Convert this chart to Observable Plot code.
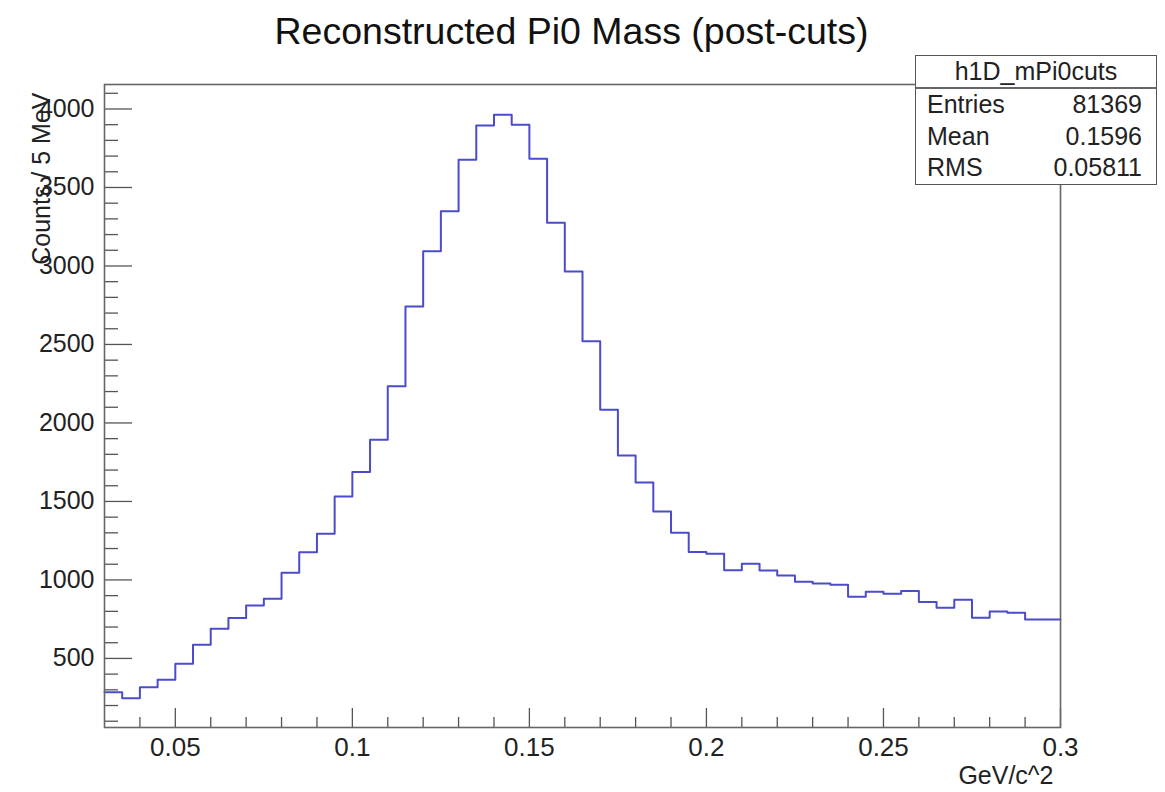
<!DOCTYPE html>
<html>
<head>
<meta charset="utf-8">
<script src="https://cdn.jsdelivr.net/npm/d3@7"></script>
<script src="https://cdn.jsdelivr.net/npm/@observablehq/plot@0.6"></script>
<style>
  html, body { margin: 0; padding: 0; background: #fff; }
  body { font-family: "Liberation Sans", Arial, Helvetica, sans-serif; }
  #wrap { position: relative; width: 1165px; height: 792px; overflow: hidden; }
  #stats {
    position: absolute; left: 915px; top: 55px; width: 242px; height: 130px;
    border: 1.5px solid #555; background: #fff; box-sizing: border-box;
    font-size: 25px; color: #222;
  }
  #stats .hdr { height: 31px; line-height: 31px; text-align: center; border-bottom: 2px solid #666; }
  #stats .row { display: flex; justify-content: space-between; padding: 0 14px 0 11px; height: 31.5px; line-height: 31.5px; }
</style>
</head>
<body>
<div id="wrap"></div>
<script>
// ---- data ----
const histName = "h1D_mPi0cuts";
const chartTitle = "Reconstructed Pi0 Mass (post-cuts)";
const xTitle = "GeV/c^2";
const yTitle = "Counts / 5 MeV";
const binLow = 0.03;      // GeV/c^2
const binWidth = 0.005;   // 5 MeV
const counts = [
  285, 247, 317, 364, 466, 587, 689, 757, 837, 880,
  1045, 1177, 1294, 1532, 1687, 1893, 2234, 2742, 3094, 3349,
  3676, 3895, 3963, 3899, 3683, 3275, 2965, 2521, 2084, 1793,
  1620, 1436, 1301, 1178, 1167, 1062, 1103, 1060, 1028, 988,
  978, 969, 893, 924, 912, 929, 859, 823, 874, 759,
  799, 791, 748, 748
];
const statLabels = ["Entries", "Mean", "RMS"];
const statValues = ["81369", "0.1596", "0.05811"];
const xDomain = [0.03, 0.3];
const yDomain = [60, 4156];
const xMajorTicks = [0.05, 0.1, 0.15, 0.2, 0.25, 0.3];
const xMinorTicks = [0.04, 0.06, 0.07, 0.08, 0.09, 0.11, 0.12, 0.13, 0.14, 0.16, 0.17, 0.18, 0.19, 0.21, 0.22, 0.23, 0.24, 0.26, 0.27, 0.28, 0.29];
const yMajorTicks = [500, 1000, 1500, 2000, 2500, 3000, 3500, 4000];
const yMinorTicks = [100, 200, 300, 400, 600, 700, 800, 900, 1100, 1200, 1300, 1400, 1600, 1700, 1800, 1900, 2100, 2200, 2300, 2400, 2600, 2700, 2800, 2900, 3100, 3200, 3300, 3400, 3600, 3700, 3800, 3900, 4100];

// build step outline points (left edges + final right edge)
const pts = counts.map((c, i) => ({x: binLow + i * binWidth, y: c}));
pts.push({x: binLow + counts.length * binWidth, y: counts[counts.length - 1]});

const W = 1165, H = 792;
const mL = 104, mR = 105, mT = 84, mB = 65;
const pw = W - mL - mR, ph = H - mT - mB;
const font = "Liberation Sans, Arial, Helvetica, sans-serif";

const chart = Plot.plot({
  width: W, height: H,
  marginLeft: mL, marginRight: mR, marginTop: mT, marginBottom: mB,
  style: {fontFamily: font, color: "#222", background: "#fff"},
  x: {domain: xDomain},
  y: {domain: yDomain},
  marks: [
    Plot.ruleY(yMajorTicks, {insetRight: pw - 28, stroke: "#555", strokeWidth: 1.3}),
    Plot.ruleY(yMinorTicks, {insetRight: pw - 14, stroke: "#555", strokeWidth: 1.3}),
    Plot.ruleX(xMajorTicks, {insetTop: ph - 19, stroke: "#555", strokeWidth: 1.3}),
    Plot.ruleX(xMinorTicks, {insetTop: ph - 10, stroke: "#555", strokeWidth: 1.3}),
    Plot.line(pts, {x: "x", y: "y", curve: "step-after", stroke: "#4b4bcc", strokeWidth: 2}),
    Plot.frame({stroke: "#666", strokeWidth: 1.6}),
    Plot.axisY({ticks: yMajorTicks, tickSize: 0, tickPadding: 10, fontSize: 25, tickFormat: d => String(d), label: null}),
    Plot.axisX({ticks: xMajorTicks, tickSize: 0, tickPadding: 10, fontSize: 26, tickFormat: d => String(d), label: null}),
    Plot.text([chartTitle], {frameAnchor: "top", dx: -11, dy: -53, fontSize: 37.5, lineAnchor: "middle", fill: "#111"}),
    Plot.text([yTitle], {frameAnchor: "top-left", rotate: -90, textAnchor: "end", lineAnchor: "middle", dx: -63, dy: 8, fontSize: 25, fill: "#222"}),
    Plot.text([xTitle], {frameAnchor: "bottom-right", textAnchor: "end", lineAnchor: "middle", dx: -7, dy: 48, fontSize: 25, fill: "#222"})
  ]
});

const wrap = document.getElementById("wrap");
wrap.appendChild(chart);

const stats = document.createElement("div");
stats.id = "stats";
const hdr = document.createElement("div");
hdr.className = "hdr";
hdr.textContent = histName;
stats.appendChild(hdr);
statLabels.forEach((lab, i) => {
  const r = document.createElement("div");
  r.className = "row";
  const a = document.createElement("span"); a.textContent = lab;
  const b = document.createElement("span"); b.textContent = statValues[i];
  r.appendChild(a); r.appendChild(b);
  stats.appendChild(r);
});
wrap.appendChild(stats);
</script>
</body>
</html>
